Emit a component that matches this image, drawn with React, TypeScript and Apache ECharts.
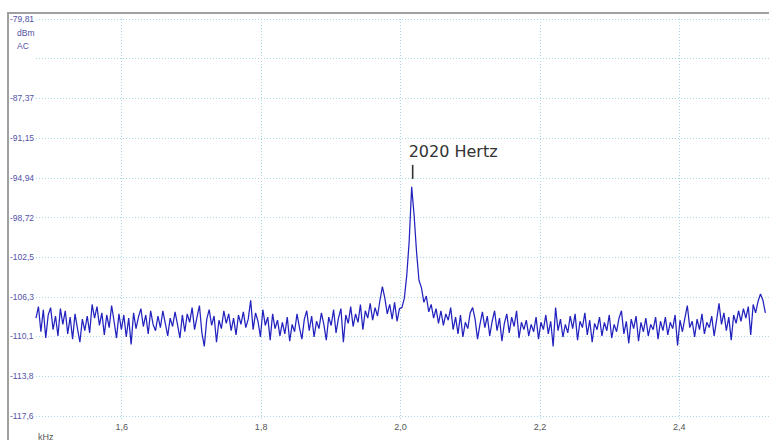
import { useEffect, useRef } from 'react';
import * as echarts from 'echarts';

const freqStartKHz = 1.477;
const freqStepKHz = 0.0035;

// Spectrum level (dBm) per frequency bin
const levelsDbm: number[] = [
  -108.3, -107.2, -109.6, -107.5, -110.2, -108.0, -107.3, -109.4, -108.1, -110.0,
  -107.4, -108.9, -107.6, -109.8, -108.2, -110.3, -107.9, -109.3, -110.6, -108.4,
  -109.5, -108.1, -109.7, -107.0, -108.3, -107.2, -109.0, -107.8, -109.9, -108.0,
  -109.2, -107.1, -108.6, -110.2, -107.9, -109.4, -108.0, -110.1, -108.3, -110.8,
  -107.8, -109.3, -108.2, -107.4, -109.1, -108.0, -109.8, -107.6, -108.9,
  -109.5, -108.1, -109.2, -107.6, -108.8, -110.0, -108.3, -109.1, -107.7, -108.9,
  -110.2, -108.0, -109.6, -107.9, -108.7, -107.3, -109.4, -108.2, -107.1, -109.7,
  -111.0, -108.4, -107.5, -109.0, -108.1, -110.6, -108.5, -109.3, -107.6, -108.8,
  -107.9, -109.5, -108.3, -109.9, -108.0, -108.9, -107.7, -109.2, -108.4, -106.6,
  -109.4, -107.8, -108.6, -110.1, -107.5, -109.0, -108.2, -110.4, -107.9, -109.3,
  -108.5, -110.0,
  -108.7, -109.8, -108.2, -110.5, -108.9, -109.6, -107.9, -109.2, -110.3, -108.4,
  -107.6, -109.5, -108.1, -110.1, -108.6, -109.3, -107.8, -108.9, -110.4, -108.2,
  -109.0, -107.5, -109.7, -108.3, -107.4, -110.6, -108.0, -108.8, -107.2, -109.1,
  -107.9, -108.7, -107.0, -109.4, -107.6, -108.3, -106.9, -108.5, -107.3, -108.1,
  -106.6, -105.3, -106.4, -107.9, -107.0, -108.4, -106.8, -108.6, -107.4,
  -107.3, -106.4, -104.2, -100.9, -95.8, -98.5, -102.0, -104.7, -105.4, -106.8,
  -106.2, -107.7, -107.0, -108.3,
  -107.4, -108.8, -107.6, -109.0, -107.9, -108.5, -107.3, -109.4, -108.2, -109.8,
  -108.0, -110.1, -108.7, -109.3, -107.8, -107.3, -108.4, -110.3, -108.9, -107.7,
  -109.2, -108.1, -110.0, -108.6, -107.6, -109.5, -108.3, -110.5, -108.8, -107.9,
  -109.7, -108.2, -109.1, -107.6, -110.2, -108.7, -109.4,
  -108.5, -110.0, -108.9, -109.6, -108.2, -110.3, -108.7, -109.4, -108.0, -109.8,
  -108.6, -111.0, -107.3, -109.5, -108.4, -110.1, -108.9, -109.7, -108.1, -109.3,
  -107.9, -110.4, -108.6, -109.2, -107.8, -109.9, -108.5, -110.6, -108.8, -109.4,
  -108.2, -110.0, -108.7, -109.5, -108.0, -110.2, -108.9, -109.6, -108.3, -107.6,
  -109.8, -108.6, -110.7, -108.4, -109.3, -108.1, -110.5, -108.7, -109.6, -108.3,
  -110.0, -108.9, -109.4, -108.2, -110.3,
  -108.6, -109.5, -108.2, -109.9, -108.7, -109.3, -108.0, -110.9, -108.5, -109.6,
  -108.3, -107.1, -109.2, -108.6, -110.1, -108.4, -109.4, -107.9, -109.8, -108.7,
  -109.2, -108.1, -110.0, -108.5, -106.9, -108.9, -107.8, -109.5, -108.2, -110.4,
  -108.0, -108.8, -107.6, -108.6, -107.4, -108.3, -107.2, -109.9, -107.0, -107.8,
  -106.7, -106.0, -106.6, -107.8,
];

const xTickValues = [1.6, 1.8, 2.0, 2.2, 2.4];
const xTickLabels = ['1,6', '1,8', '2,0', '2,2', '2,4'];
const yTickValues = [-117.6, -113.83, -110.05, -106.27, -102.49, -98.72, -94.94, -91.16, -87.37, -83.59, -79.81];
const yTickLabels = ['-117,6', '-113,8', '-110,1', '-106,3', '-102,5', '-98,72', '-94,94', '-91,15', '-87,37', '', '-79,81'];
const unitLabels = ['dBm', 'AC'];
const xUnitLabel = 'kHz';
const peakLabel = '2020 Hertz';

const xMin = 1.477;
const xMax = 2.5287;
const yMin = -118.1;
const yMax = -79.81;

const labelFromList = (v: number, vals: number[], labels: string[]) => {
  let best = 0;
  for (let i = 1; i < vals.length; i++) {
    if (Math.abs(vals[i] - v) < Math.abs(vals[best] - v)) best = i;
  }
  return labels[best];
};

export default function App() {
  const ref = useRef<HTMLDivElement>(null);
  useEffect(() => {
    if (!ref.current) return;
    const chart = echarts.init(ref.current, undefined, { renderer: 'svg' });
    const points = levelsDbm.map((v, i) => [freqStartKHz + i * freqStepKHz, v]);
    const gridColor = '#a9d9e6';
    chart.setOption({
      animation: false,
      backgroundColor: '#ffffff',
      grid: { left: 36, right: 0, top: 19, bottom: 19, containLabel: false },
      xAxis: {
        type: 'value',
        min: xMin,
        max: xMax,
        axisLine: { show: false },
        axisTick: { show: false, customValues: xTickValues },
        axisLabel: {
          customValues: xTickValues,
          formatter: (v: number) => labelFromList(v, xTickValues, xTickLabels),
          color: '#555555',
          fontFamily: 'Liberation Sans',
          fontSize: 9,
          margin: 1,
        },
        splitLine: { show: true, lineStyle: { color: gridColor, type: [1, 2], width: 1 } },
      },
      yAxis: {
        type: 'value',
        min: yMin,
        max: yMax,
        axisLine: { show: false },
        axisTick: { show: false, customValues: yTickValues },
        axisLabel: {
          customValues: yTickValues,
          formatter: (v: number) => labelFromList(v, yTickValues, yTickLabels),
          color: '#5252a6',
          fontFamily: 'Liberation Sans',
          fontSize: 8.5,
          align: 'left',
          margin: 26,
        },
        splitLine: { show: true, lineStyle: { color: gridColor, type: [1, 2], width: 1 } },
      },
      series: [
        {
          type: 'line',
          data: points,
          showSymbol: false,
          symbol: 'none',
          lineStyle: { color: '#2222bf', width: 1.25 },
          silent: true,
        },
      ],
    });

    let peakIdx = 0;
    levelsDbm.forEach((v, i) => { if (v > levelsDbm[peakIdx]) peakIdx = i; });
    const [px, py] = chart.convertToPixel({ gridIndex: 0 }, [freqStartKHz + peakIdx * freqStepKHz, levelsDbm[peakIdx]]) as number[];

    chart.setOption({
      graphic: [
        { type: 'line', shape: { x1: 8, y1: 13, x2: 769, y2: 13 }, style: { stroke: '#a0a0a0', lineWidth: 2 } },
        { type: 'line', shape: { x1: 8, y1: 12, x2: 8, y2: 440 }, style: { stroke: '#a0a0a0', lineWidth: 2 } },
        { type: 'text', x: 17, y: 33, style: { text: unitLabels[0], fill: '#5252a6', font: '8.5px "Liberation Sans"', textVerticalAlign: 'middle' } },
        { type: 'text', x: 17, y: 45.5, style: { text: unitLabels[1], fill: '#5252a6', font: '8.5px "Liberation Sans"', textVerticalAlign: 'middle' } },
        { type: 'text', x: 38, y: 432, style: { text: xUnitLabel, fill: '#555555', font: '9px "Liberation Sans"', textVerticalAlign: 'top' } },
        { type: 'line', shape: { x1: px + 1, y1: py - 22, x2: px + 1, y2: py - 8 }, style: { stroke: '#333333', lineWidth: 1.6 } },
        { type: 'text', x: px - 3, y: py - 35, style: { text: peakLabel, fill: '#333333', font: '16px "DejaVu Sans"', textVerticalAlign: 'middle' } },
      ],
    });
    return () => chart.dispose();
  }, []);
  return <div ref={ref} style={{ position: 'fixed', left: 0, top: 0, width: 769, height: 440 }} />;
}
